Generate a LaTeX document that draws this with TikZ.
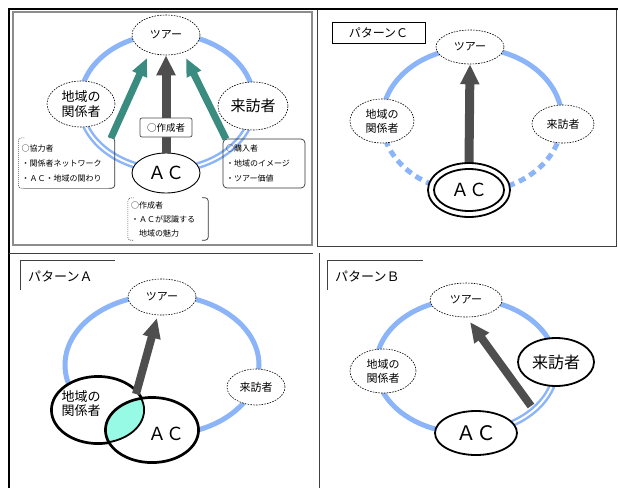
\documentclass[tikz,border=0pt]{standalone}
\usepackage{fontspec}
\setmainfont{Noto Sans CJK JP}
\usetikzlibrary{shapes.geometric,arrows.meta}
\definecolor{ringblue}{RGB}{140,180,248}
\definecolor{tealc}{RGB}{58,140,128}
\definecolor{arrowgray}{RGB}{78,78,78}
\definecolor{aquafill}{RGB}{150,250,228}
\newcommand\fsz[2]{\fontsize{#1}{#2}\selectfont}
\begin{document}
\begin{tikzpicture}[x=1pt,y=-1pt,
  ring/.style={draw=ringblue,line width=5pt},
  ringdbl/.style={draw=ringblue,line width=2.5pt,double=white,double distance=2pt},
  ringdsh/.style={draw=ringblue,line width=5pt,dash pattern=on 7pt off 5pt},
  dnode/.style={ellipse,draw,dash pattern=on 1.6pt off 1.2pt,line width=0.6pt,fill=white,inner sep=0pt,align=center},
  snode/.style={ellipse,draw,line width=1.8pt,fill=white,inner sep=0pt,align=center},
  tnode/.style={ellipse,draw,line width=0.9pt,fill=white,inner sep=0pt,align=center},
  darrow/.style={draw=arrowgray,line width=9pt,-{Triangle[width=18pt,length=20pt]}},
  tarrow/.style={draw=tealc,line width=7pt,-{Triangle[width=15pt,length=18pt]}},
  txt/.style={inner sep=3pt,align=left,font=\fsz{8}{15}},
  brk/.style={draw=black!80,line width=0.7pt,rounded corners=3pt},
  brkdot/.style={draw=black!70,line width=0.6pt,dash pattern=on 1pt off 1pt,rounded corners=3pt},
  frame/.style={draw=black!75,line width=0.9pt},
  lbl/.style={font=\fsz{13}{15},inner sep=0pt}
]
\useasboundingbox (0,0) rectangle (618,488);

% ---------- frames ----------
\draw[line width=2.5pt] (8,9) -- (618,9);
\draw[line width=1.8pt] (9,8) -- (9,488);
\draw[draw=black!45,line width=1.2pt] (13,12) rectangle (312,245);
\draw[frame] (317,10) -- (317,246) -- (616,246) -- (616,10);
\draw[frame] (9,253) -- (313,253);
\draw[frame] (319,253) -- (319,488);

% ---------- top-left panel ----------
\draw[ring] (254,102) arc[start angle=0,end angle=-180,x radius=87,y radius=68];
\draw[ringdbl] (254,102) arc[start angle=0,end angle=180,x radius=87,y radius=68];
\node[dnode,minimum width=68pt,minimum height=40pt,font=\fsz{11}{13}] (t1) at (166,35) {ツアー};
\node[dnode,minimum width=68pt,minimum height=46pt,font=\fsz{13}{15}] (r1) at (81,104) {地域の\\関係者};
\node[dnode,minimum width=70pt,minimum height=48pt,font=\fsz{15}{17}] (v1) at (253,106) {来訪者};
\node[tnode,minimum width=68pt,minimum height=40pt,font=\fsz{18}{20}] (a1) at (166,173) {ＡＣ};
\node[txt,text width=90pt,minimum height=50pt] (lb) at (66.5,163) {○協力者\\・関係者ネットワーク\\・ＡＣ・地域の関わり};
\node[txt,text width=76pt,minimum height=49pt,draw=black!80,line width=0.7pt,rounded corners=4pt] (rb) at (264,163.5) {○購入者\\・地域のイメージ\\・ツアー価値};
\node[txt,text width=74pt,minimum height=42pt,font=\fsz{8}{14}] (bb) at (168,219) {○作成者\\・ＡＣが認識する\\\hspace*{8pt}地域の魅力};
\draw[brkdot] ([xshift=6pt]lb.north west) -- (lb.north west) -- (lb.south west) -- ([xshift=6pt]lb.south west);
\draw[brk] ([xshift=-6pt]lb.north east) -- (lb.north east) -- (lb.south east) -- ([xshift=-6pt]lb.south east);
\draw[draw=black!40,line width=0.6pt] ([xshift=6pt]lb.south west) -- ([xshift=-6pt]lb.south east);
\draw[brkdot] ([xshift=6pt]bb.north west) -- (bb.north west) -- (bb.south west) -- ([xshift=6pt]bb.south west);
\draw[brk] ([xshift=-6pt]bb.north east) -- (bb.north east) -- (bb.south east) -- ([xshift=-6pt]bb.south east);
\coordinate (ls) at (111,138);
\coordinate (lt) at (147,58);
\coordinate (rs) at (226,139);
\coordinate (rt) at (186,58);
\draw[tarrow] (ls) -- (lt);
\draw[tarrow] (rs) -- (rt);
\draw[darrow] (a1.north) -- (t1.south);
\node[draw=black!70,line width=0.7pt,rounded corners=2pt,fill=white,minimum width=52pt,minimum height=19pt,inner sep=1pt,font=\fsz{9.5}{11}] (mk) at (166,127.5) {○作成者};

% ---------- top-right panel : pattern C ----------
\node[draw,line width=0.8pt,minimum width=93pt,minimum height=21pt,inner sep=0pt,font=\fsz{12}{14},anchor=center] (pc) at (378.5,32.5) {パターンＣ};
\draw[ring] (562,120) arc[start angle=0,end angle=-180,x radius=90,y radius=72];
\draw[ringdsh] (562,120) arc[start angle=0,end angle=180,x radius=90,y radius=72];
\node[dnode,minimum width=68pt,minimum height=34pt,font=\fsz{11}{13}] (t2) at (470,47) {ツアー};
\node[dnode,minimum width=64pt,minimum height=44pt,font=\fsz{11}{14}] (r2) at (382,121) {地域の\\関係者};
\node[dnode,minimum width=62pt,minimum height=38pt,font=\fsz{11}{13}] (v2) at (563,124) {来訪者};
\node[snode,minimum width=82pt,minimum height=54pt] (a2o) at (469,190) {};
\node[snode,minimum width=70pt,minimum height=42pt,font=\fsz{18}{20}] (a2) at (469,190) {ＡＣ};
\draw[darrow] (a2o.north) -- (t2.south);

% ---------- bottom-left panel : pattern A ----------
\draw[frame] (20,290) -- (20,260) -- (115,260);
\node[lbl,anchor=west] (pa) at (28,276) {パターンＡ};
\draw[ring] (162,365) ellipse[x radius=97,y radius=70];
\node[dnode,minimum width=68pt,minimum height=36pt,font=\fsz{11}{13}] (t3) at (162,297) {ツアー};
\node[dnode,minimum width=58pt,minimum height=36pt,font=\fsz{11}{13}] (v3) at (256,387) {来訪者};
\node[snode,minimum width=94pt,minimum height=68pt] (r3) at (98,410) {};
\node[snode,minimum width=94pt,minimum height=66pt] (a3) at (152,430) {};
\begin{scope}
  \clip (98,410) ellipse[x radius=46,y radius=33];
  \fill[aquafill] (152,430) ellipse[x radius=46,y radius=32];
\end{scope}
\draw[line width=1.8pt] (98,410) ellipse[x radius=46.1,y radius=33.1];
\draw[line width=1.8pt] (152,430) ellipse[x radius=46.1,y radius=32.1];
\node[font=\fsz{13}{14},align=center,inner sep=0pt] (r3t) at (81,404) {地域の\\関係者};
\node[font=\fsz{18}{20},inner sep=0pt] (a3t) at (166,434) {ＡＣ};
\coordinate (as) at (136,394);
\coordinate (at) at (157,318);
\draw[darrow,line width=8pt,-{Triangle[width=17pt,length=20pt]}] (as) -- (at);

% ---------- bottom-right panel : pattern B ----------
\draw[frame] (327,290) -- (327,260) -- (423,260);
\node[lbl,anchor=west] (pb) at (335,276) {パターンＢ};
\draw[ring] (466,433) arc[start angle=90,end angle=360,x radius=90,y radius=67];
\draw[ringdbl] (556,366) arc[start angle=0,end angle=90,x radius=90,y radius=67];
\node[dnode,minimum width=72pt,minimum height=34pt,font=\fsz{11}{13}] (t4) at (466,300) {ツアー};
\node[dnode,minimum width=66pt,minimum height=44pt,font=\fsz{11}{14}] (r4) at (383,371) {地域の\\関係者};
\node[snode,minimum width=76pt,minimum height=48pt,font=\fsz{16}{18}] (v4) at (556,362) {来訪者};
\node[snode,minimum width=82pt,minimum height=44pt,font=\fsz{20}{22}] (a4) at (476,433) {ＡＣ};
\coordinate (bs) at (531,406);
\coordinate (bt) at (470,322);
\draw[darrow,line width=8pt,-{Triangle[width=17pt,length=20pt]}] (bs) -- (bt);
\end{tikzpicture}
\end{document}
